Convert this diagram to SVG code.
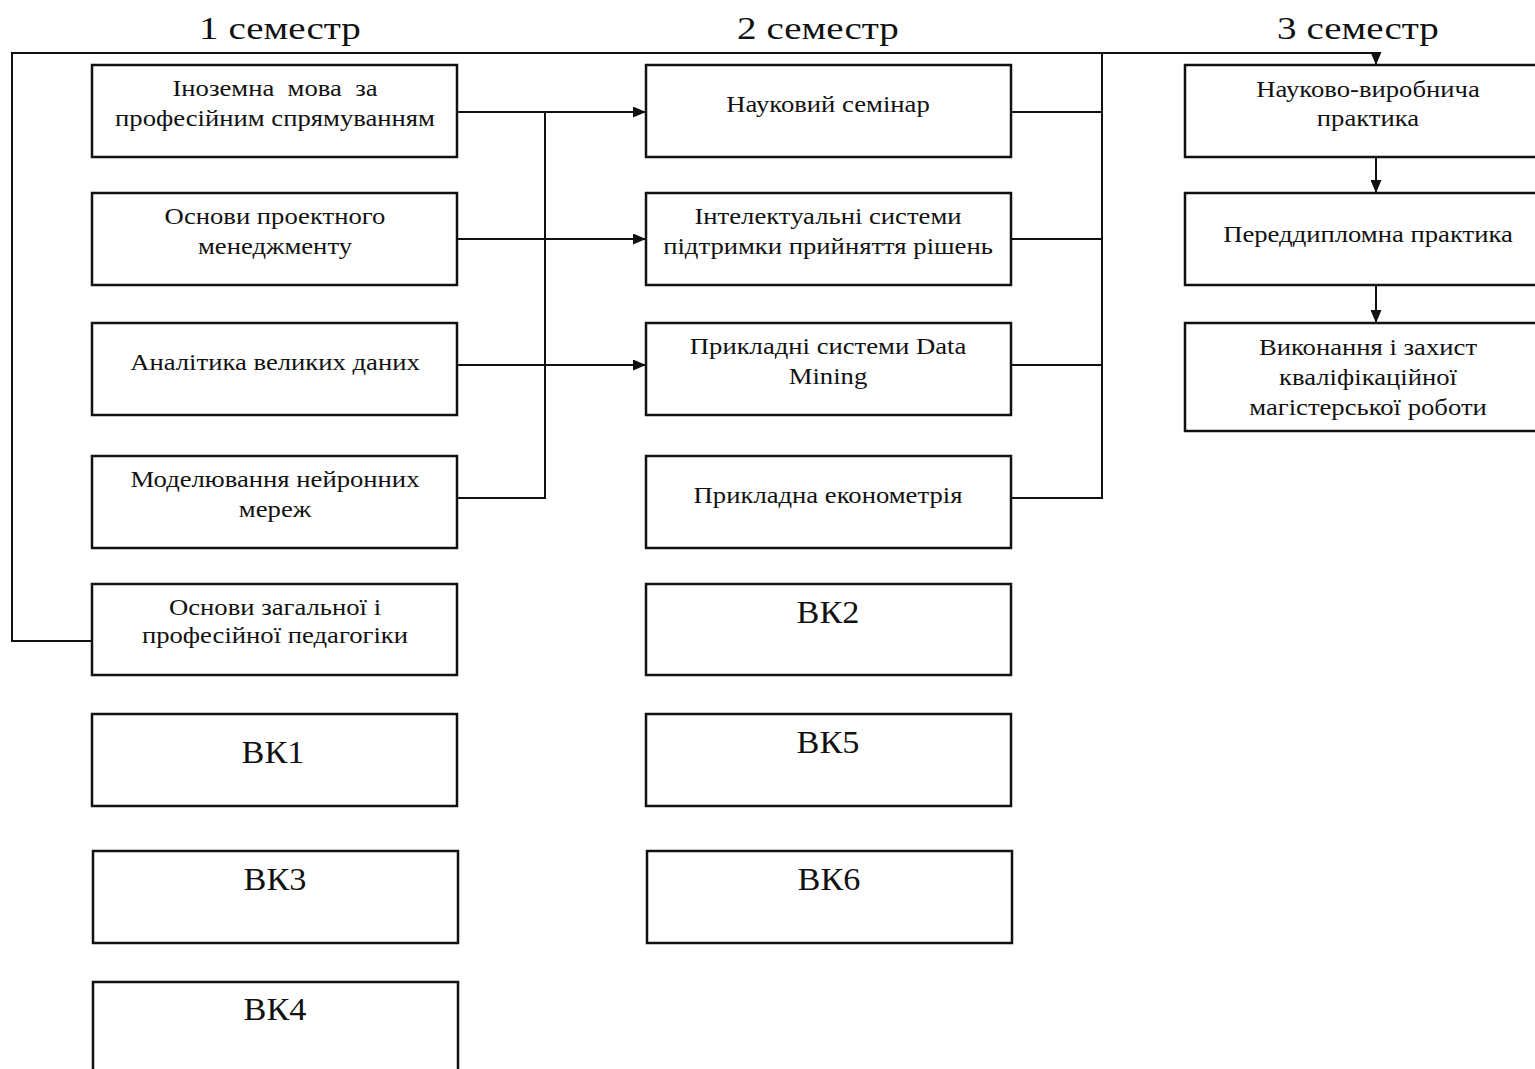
<svg xmlns="http://www.w3.org/2000/svg" width="1535" height="1069" viewBox="0 0 1535 1069">
<style>
.box{fill:#fff;stroke:#111;stroke-width:2.5}
.t{font-family:"Liberation Serif","Times New Roman",serif;font-size:23px;fill:#111;text-anchor:middle}
.vk{font-family:"Liberation Serif","Times New Roman",serif;font-size:32px;fill:#111;text-anchor:middle}
.h{font-family:"Liberation Serif","Times New Roman",serif;font-size:32px;fill:#111;text-anchor:middle}
.c{fill:none;stroke:#111;stroke-width:2}
</style>
<defs>
<marker id="ar" viewBox="0 0 13 11" refX="13" refY="5.5" markerWidth="13" markerHeight="11" markerUnits="userSpaceOnUse" orient="auto">
<path d="M0,0 L13,5.5 L0,11 Z" fill="#111"/>
</marker>
</defs>
<rect width="1535" height="1069" fill="#fff"/>
<g id="titles">
<text class="h" transform="translate(280,39) scale(1.22,1)">1 семестр</text>
<text class="h" transform="translate(818,39) scale(1.22,1)">2 семестр</text>
<text class="h" transform="translate(1358,39) scale(1.22,1)">3 семестр</text>
</g>
<g id="connectors">
<path class="c" d="M92,641 H12 V53 H1376 V65" marker-end="url(#ar)"/>
<path class="c" d="M457,112 H646" marker-end="url(#ar)"/>
<path class="c" d="M457,239 H646" marker-end="url(#ar)"/>
<path class="c" d="M457,365 H646" marker-end="url(#ar)"/>
<path class="c" d="M457,498 H545 V112"/>
<path class="c" d="M1011,112 H1102"/>
<path class="c" d="M1011,239 H1102"/>
<path class="c" d="M1011,365 H1102"/>
<path class="c" d="M1011,498 H1102 V53"/>
<path class="c" d="M1376,157 V193" marker-end="url(#ar)"/>
<path class="c" d="M1376,285 V323" marker-end="url(#ar)"/>
</g>
<g id="n1"><rect class="box" x="92" y="65" width="365" height="92"/><text class="t" transform="translate(275,96) scale(1.16,1)" xml:space="preserve">Іноземна  мова  за</text><text class="t" transform="translate(275,126) scale(1.16,1)">професійним спрямуванням</text></g>
<g id="n2"><rect class="box" x="92" y="193" width="365" height="92"/><text class="t" transform="translate(275,224) scale(1.16,1)">Основи проектного</text><text class="t" transform="translate(275,254) scale(1.16,1)">менеджменту</text></g>
<g id="n3"><rect class="box" x="92" y="323" width="365" height="92"/><text class="t" transform="translate(275,370) scale(1.16,1)">Аналітика великих даних</text></g>
<g id="n4"><rect class="box" x="92" y="456" width="365" height="92"/><text class="t" transform="translate(275,487) scale(1.16,1)">Моделювання нейронних</text><text class="t" transform="translate(275,517) scale(1.16,1)">мереж</text></g>
<g id="n5"><rect class="box" x="92" y="584" width="365" height="91"/><text class="t" transform="translate(275,615) scale(1.16,1)">Основи загальної і</text><text class="t" transform="translate(275,643) scale(1.16,1)">професійної педагогіки</text></g>
<g id="vk1"><rect class="box" x="92" y="714" width="365" height="92"/><text class="vk" transform="translate(273,763) scale(1.07,1)">ВК1</text></g>
<g id="vk3"><rect class="box" x="93" y="851" width="365" height="92"/><text class="vk" transform="translate(275,890) scale(1.07,1)">ВК3</text></g>
<g id="vk4"><rect class="box" x="93" y="982" width="365" height="100"/><text class="vk" transform="translate(275,1020) scale(1.07,1)">ВК4</text></g>
<g id="m1"><rect class="box" x="646" y="65" width="365" height="92"/><text class="t" transform="translate(828,112) scale(1.16,1)">Науковий семінар</text></g>
<g id="m2"><rect class="box" x="646" y="193" width="365" height="92"/><text class="t" transform="translate(828,224) scale(1.16,1)">Інтелектуальні системи</text><text class="t" transform="translate(828,254) scale(1.16,1)">підтримки прийняття рішень</text></g>
<g id="m3"><rect class="box" x="646" y="323" width="365" height="92"/><text class="t" transform="translate(828,354) scale(1.16,1)">Прикладні системи Data</text><text class="t" transform="translate(828,384) scale(1.16,1)">Mining</text></g>
<g id="m4"><rect class="box" x="646" y="456" width="365" height="92"/><text class="t" transform="translate(828,503) scale(1.16,1)">Прикладна економетрія</text></g>
<g id="vk2"><rect class="box" x="646" y="584" width="365" height="91"/><text class="vk" transform="translate(828,623) scale(1.07,1)">ВК2</text></g>
<g id="vk5"><rect class="box" x="646" y="714" width="365" height="92"/><text class="vk" transform="translate(828,753) scale(1.07,1)">ВК5</text></g>
<g id="vk6"><rect class="box" x="647" y="851" width="365" height="92"/><text class="vk" transform="translate(829,890) scale(1.07,1)">ВК6</text></g>
<g id="r1"><rect class="box" x="1185" y="65" width="365" height="92"/><text class="t" transform="translate(1368,97) scale(1.16,1)">Науково-виробнича</text><text class="t" transform="translate(1368,126) scale(1.16,1)">практика</text></g>
<g id="r2"><rect class="box" x="1185" y="193" width="365" height="92"/><text class="t" transform="translate(1368,242) scale(1.16,1)">Переддипломна практика</text></g>
<g id="r3"><rect class="box" x="1185" y="323" width="365" height="108"/><text class="t" transform="translate(1368,355) scale(1.16,1)">Виконання і захист</text><text class="t" transform="translate(1368,385) scale(1.16,1)">кваліфікаційної</text><text class="t" transform="translate(1368,415) scale(1.16,1)">магістерської роботи</text></g>
</svg>
